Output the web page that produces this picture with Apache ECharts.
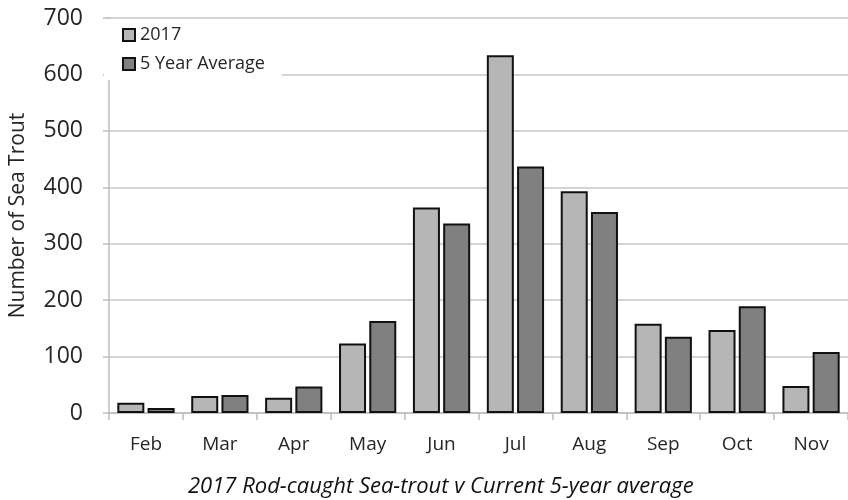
<!DOCTYPE html>
<html>
<head>
<meta charset="utf-8">
<script src="https://cdn.jsdelivr.net/npm/echarts@6/dist/echarts.min.js"></script>
<style>
  html, body { margin: 0; padding: 0; background: #ffffff; }
  #chart { width: 848px; height: 500px; }
</style>
</head>
<body>
<div id="chart"></div>
<script>
// Monthly rod-caught sea-trout counts
const months = ['Feb', 'Mar', 'Apr', 'May', 'Jun', 'Jul', 'Aug', 'Sep', 'Oct', 'Nov'];
const catch2017 = [18, 30, 27, 123, 364, 634, 393, 158, 147, 48];
const fiveYearAverage = [9, 32, 47, 163, 336, 437, 356, 135, 189, 108];
const yTicks = { min: 0, max: 700, interval: 100 };

const FONT = '"Open Sans", "Noto Sans", sans-serif';
const TEXT = '#262626';

const chart = echarts.init(document.getElementById('chart'), null, { renderer: 'canvas' });

chart.setOption({
  animation: false,
  backgroundColor: '#ffffff',
  grid: { left: 104, top: 18, width: 747, bottom: 87, containLabel: false },
  title: {
    text: '2017 Rod-caught Sea-trout v Current 5-year average',
    left: 188,
    top: 476,
    padding: 0,
    textStyle: { fontFamily: FONT, fontStyle: 'italic', fontWeight: 'normal', fontSize: 22, color: '#111' }
  },
  legend: {
    orient: 'vertical',
    left: 104,
    top: 19,
    padding: [6, 17, 6, 18],
    backgroundColor: '#ffffff',
    icon: 'rect',
    itemWidth: 12,
    itemHeight: 12,
    itemGap: 9,
    textStyle: { fontFamily: FONT, fontSize: 18, color: TEXT, lineHeight: 20 },
    data: ['2017', '5 Year Average']
  },
  xAxis: {
    type: 'category',
    data: months,
    axisLine: { lineStyle: { color: '#bdbdbd', width: 1.5 } },
    axisTick: { show: true, length: 7, lineStyle: { color: '#bdbdbd', width: 1.5 } },
    axisLabel: { fontFamily: FONT, fontSize: 19, color: TEXT, margin: 22 }
  },
  yAxis: {
    type: 'value',
    min: yTicks.min,
    max: yTicks.max,
    interval: yTicks.interval,
    name: 'Number of Sea Trout',
    nameLocation: 'middle',
    nameGap: 80,
    nameTextStyle: { fontFamily: FONT, fontSize: 21, color: TEXT },
    axisLine: { show: true, lineStyle: { color: '#bdbdbd', width: 1.5 } },
    axisTick: { show: true, length: 6, lineStyle: { color: '#bdbdbd', width: 1.5 } },
    axisLabel: { fontFamily: FONT, fontSize: 23, color: TEXT, margin: 26 },
    splitLine: { lineStyle: { color: '#c6c6c6', width: 1.5 } }
  },
  series: [
    {
      name: '2017',
      type: 'bar',
      data: catch2017,
      barWidth: 27,
      barGap: '12%',
      itemStyle: { color: '#b6b6b6', borderColor: '#111111', borderWidth: 2 }
    },
    {
      name: '5 Year Average',
      type: 'bar',
      data: fiveYearAverage,
      barWidth: 27,
      itemStyle: { color: '#808080', borderColor: '#111111', borderWidth: 2 }
    }
  ]
});
</script>
</body>
</html>
